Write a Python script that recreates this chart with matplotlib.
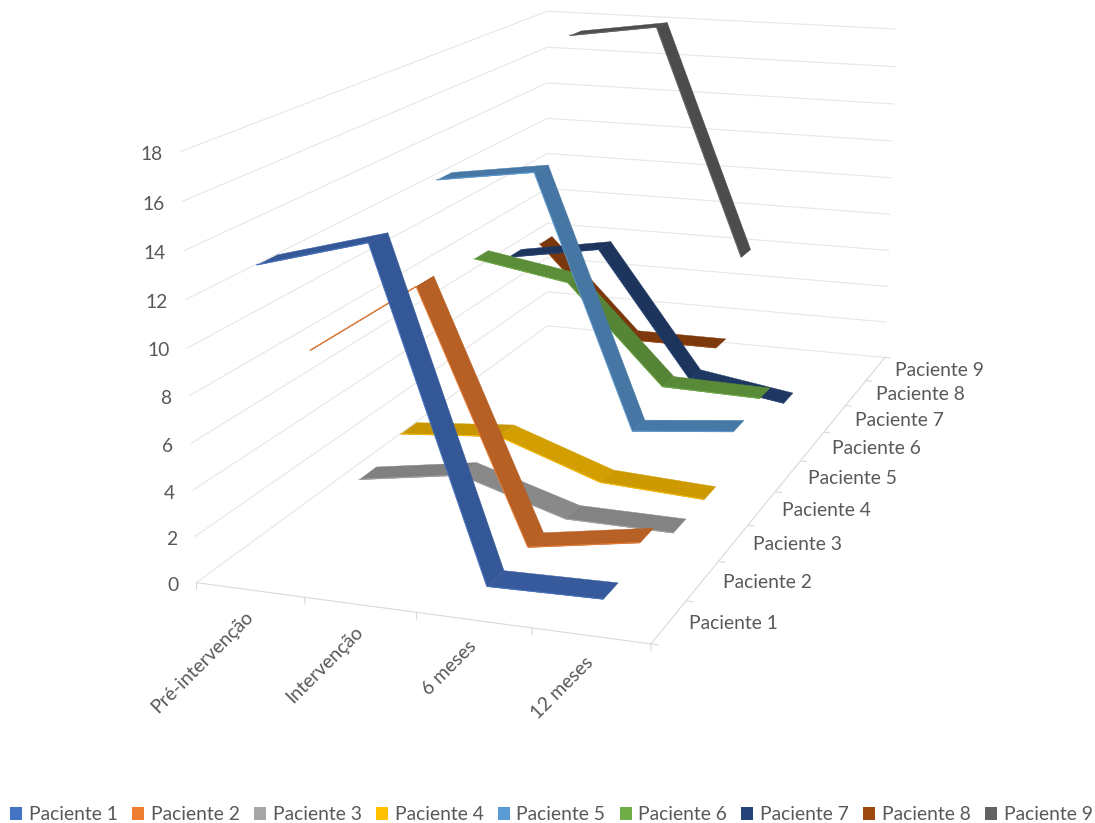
"""Evolucao dos pacientes ao longo do seguimento - linhas 3D em fita."""
import numpy as np
import matplotlib
matplotlib.use("Agg")
import matplotlib.pyplot as plt
from matplotlib.patches import Patch
from mpl_toolkits.mplot3d import proj3d
from mpl_toolkits.mplot3d.art3d import Poly3DCollection

plt.rcParams["font.family"] = ["Lato", "DejaVu Sans"]

categorias = ["Pré-intervenção", "Intervenção", "6 meses", "12 meses"]
pacientes = ["Paciente %d" % i for i in range(1, 10)]
cores = ["#4472C4", "#ED7D31", "#A5A5A5", "#FFC000", "#5B9BD5",
         "#70AD47", "#264478", "#9E480E", "#636363"]

p1 = [13.3, 14.6, 0.9, 1.0]
p2 = [8.5, 11.7, 0.9, 1.7]
p3 = [1.25, 2.0, 0.55, 0.5]
p4 = [1.95, 2.35, 0.7, 0.45]
p5 = [13.05, 13.75, 1.7, 2.2]
p6 = [8.15, 7.35, 2.55, 2.45]
p7 = [7.15, 7.95, 1.6, 0.85]
p8 = [6.8, 2.0, 2.0, np.nan]
p9 = [17.25, 17.95, 5.8, np.nan]
valores = [p1, p2, p3, p4, p5, p6, p7, p8, p9]

marcas_z = list(range(0, 19, 2))

W, H = 1095, 823
COR_TEXTO = "#595959"
COR_GRADE = "#E6E6E6"
COR_EIXO = "#D9D9D9"
FONTE = 13.9
MEIA_FITA = 0.2


def sombra(cor, inclinacao):
    # descidas suaves ficam um pouco mais claras que os trechos planos
    f = 0.77 + 0.06 * np.exp(-((inclinacao - 1.5) / 1.5) ** 2)
    return tuple(c * f for c in matplotlib.colors.to_rgb(cor))


def rotulo(x, y, z, texto, dx, dy, **kw):
    # Text3D ignora rotation, entao o rotulo vai como anotacao 2D no ponto projetado
    xp, yp, _ = proj3d.proj_transform(x, y, z, ax.get_proj())
    ax.annotate(texto, xy=(xp, yp), xycoords="data", xytext=(dx, dy),
                textcoords="offset pixels", fontsize=FONTE, color=COR_TEXTO,
                annotation_clip=False, **kw)


fig = plt.figure(figsize=(W / 100, H / 100), dpi=100)
ax = fig.add_axes([0, 0, 1, 1], projection="3d", computed_zorder=False)
ax.view_init(elev=13.938, azim=-71.268, roll=-0.236)
ax.set_proj_type("persp", focal_length=0.4361)
ax.set_box_aspect((1.0851, 2.3663, 1.0))
ax.set_axis_off()

# posiciona a caixa para a escala e o centro desejados (em pixels)
K, CX, CY = 5619.76, 589.96, 271.25
vl = ax.viewLim
ax.set_position([(CX + K * vl.x0) / W, (H - CY + K * vl.y0) / H,
                 K * vl.width / W, K * vl.height / H])

nx, ny = len(categorias), len(pacientes)

# grade nas duas paredes
for z in marcas_z:
    ax.plot([0, 0, nx], [0, ny, ny], [z, z, z], color=COR_GRADE, lw=0.8, zorder=1)

# eixos do piso e marcas
ax.plot([0, nx, nx], [0, 0, ny], [0, 0, 0], color=COR_EIXO, lw=0.8, zorder=1)
for x in range(nx + 1):
    ax.plot([x, x], [0, 0], [0, -0.28], color=COR_EIXO, lw=0.8, zorder=1)
for y in range(ny + 1):
    ax.plot([nx, nx + 0.06], [y, y], [0, 0], color=COR_EIXO, lw=0.8, zorder=1)

# fitas: do paciente mais ao fundo para o mais a frente
for i in range(ny - 1, -1, -1):
    v = np.array(valores[i], dtype=float)
    xs = np.arange(nx) + 0.5
    ok = ~np.isnan(v)
    xs, v = xs[ok], v[ok]
    y0, y1 = i + 0.5 - MEIA_FITA, i + 0.5 + MEIA_FITA
    z = 10 + 2 * (ny - i)
    for j in range(len(v) - 1):
        quad = [(xs[j], y0, v[j]), (xs[j + 1], y0, v[j + 1]),
                (xs[j + 1], y1, v[j + 1]), (xs[j], y1, v[j])]
        cor = sombra(cores[i], v[j] - v[j + 1])
        ax.add_collection3d(Poly3DCollection([quad], facecolors=[cor], edgecolors=[cor],
                                             linewidths=0.3, zorder=z))
    ax.plot(xs, np.full(len(xs), y0), v, color=cores[i], lw=0.6, zorder=z + 1)

ax.set_xlim(0, nx)
ax.set_ylim(0, ny)
ax.set_zlim(0, 18)

# rotulos
for z in marcas_z:
    rotulo(0, 0, z, str(z), -18, -3, ha="right", va="center")
for x, nome in enumerate(categorias):
    rotulo(x + 0.5, 0, 0, nome, -6, -18, rotation=45, ha="right", va="top",
           rotation_mode="anchor")
for y, nome in enumerate(pacientes):
    rotulo(nx, y + 0.5, 0, nome, 20, -2, ha="left", va="center")

alcas = [Patch(facecolor=c, edgecolor="none", label=n) for c, n in zip(cores, pacientes)]
fig.legend(handles=alcas, loc="center", bbox_to_anchor=(551.5 / W, 1 - 815 / H), ncol=9,
           frameon=False, fontsize=FONTE, labelcolor=COR_TEXTO, handlelength=0.62,
           handleheight=0.62, handletextpad=0.35, columnspacing=0.74, borderpad=0, borderaxespad=0)

fig.savefig("out.png", dpi=100, facecolor="white")
